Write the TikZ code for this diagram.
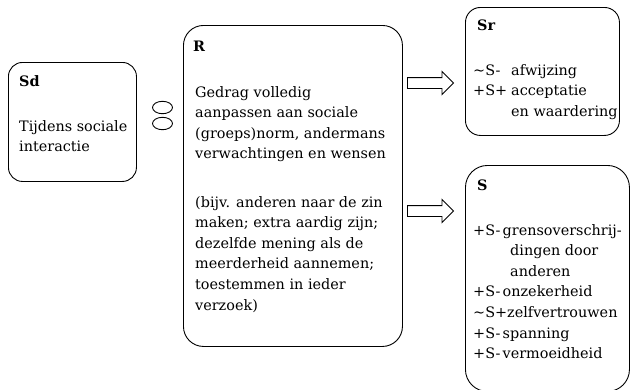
\documentclass[tikz,border=0pt]{standalone}
\usepackage{fontspec}
\setmainfont{DejaVu Serif}
\usetikzlibrary{shapes.arrows}

\tikzset{
  box/.style={draw, line width=0.9pt, rounded corners=#1, anchor=north west, inner sep=0pt},
  body/.style={anchor=base west, inner sep=0pt, font=\fontsize{14.4}{20.6}\selectfont},
  head/.style={anchor=base west, inner sep=0pt, font=\fontsize{14.4}{20.6}\selectfont\bfseries},
  blockarrow/.style={single arrow, draw, line width=0.9pt, minimum height=46pt,
    minimum width=22pt, single arrow head extend=6pt, inner xsep=0pt, inner ysep=5pt, anchor=tail},
  link/.style={draw, line width=0.9pt}
}
% top-aligned block of lines, so the node's base is the first baseline
\newcommand\textlines[1]{\parbox[t]{8cm}{\raggedright #1}}

\begin{document}
\begin{tikzpicture}[x=1pt,y=-1pt]
  \fill[white] (0,0) rectangle (631,389);
  \useasboundingbox (0,0) rectangle (631,389);
  \clip (0,0) rectangle (631,389);

  % boxes
  \node[box=14pt, minimum width=128pt, minimum height=119pt] (sd) at (8,62) {};
  \node[box=20pt, minimum width=219pt, minimum height=321pt] (r) at (183,25) {};
  \node[box=15pt, minimum width=154pt, minimum height=128pt] (sr) at (465,7) {};
  \node[box=22pt, minimum width=164pt, minimum height=226pt] (s) at (465,165) {};

  % Sd
  \node[head] (sdhead) at (19,86) {Sd};
  \node[body] (sdbody) at (19,131) {\textlines{Tijdens sociale\\interactie}};

  % the two small ovals between Sd and R
  \coordinate (o1) at (162.5,107.5);
  \coordinate (o2) at (162.5,123.5);
  \draw[link] (o1) ellipse [x radius=10pt, y radius=6.2pt];
  \draw[link] (o2) ellipse [x radius=10pt, y radius=6.2pt];

  % R
  \node[head] (rhead) at (193,51) {R};
  \node[body] (rbody) at (195,97) {\textlines{Gedrag volledig\\aanpassen aan sociale\\(groeps)norm, andermans\\verwachtingen en wensen}};
  \node[body] (rex) at (195,207) {\textlines{(bijv. anderen naar de zin\\maken; extra aardig zijn;\\dezelfde mening als de\\meerderheid aannemen;\\toestemmen in ieder\\verzoek)}};

  % block arrows
  \node[blockarrow] (a1) at (407,83) {};
  \node[blockarrow] (a2) at (407,211) {};

  % Sr
  \node[head] (srhead) at (477,30) {Sr};
  \node[body] (srbody) at (473,75) {\textlines{%
    \makebox[38pt][l]{\textasciitilde S-}afwijzing\\
    \makebox[38pt][l]{+S+}acceptatie\\
    \hspace*{38pt}en waardering}};

  % S
  \node[head] (shead) at (477,190) {S};
  \node[body] (sbody) at (473,235) {\textlines{%
    \makebox[29.5pt][l]{+S-}grensoverschrij-\\
    \hspace*{37pt}dingen door\\
    \hspace*{37pt}anderen\\
    \makebox[29.5pt][l]{+S-}onzekerheid\\
    \textasciitilde S+zelfvertrouwen\\
    \makebox[29.5pt][l]{+S-}spanning\\
    \makebox[29.5pt][l]{+S-}vermoeidheid}};
\end{tikzpicture}
\end{document}
